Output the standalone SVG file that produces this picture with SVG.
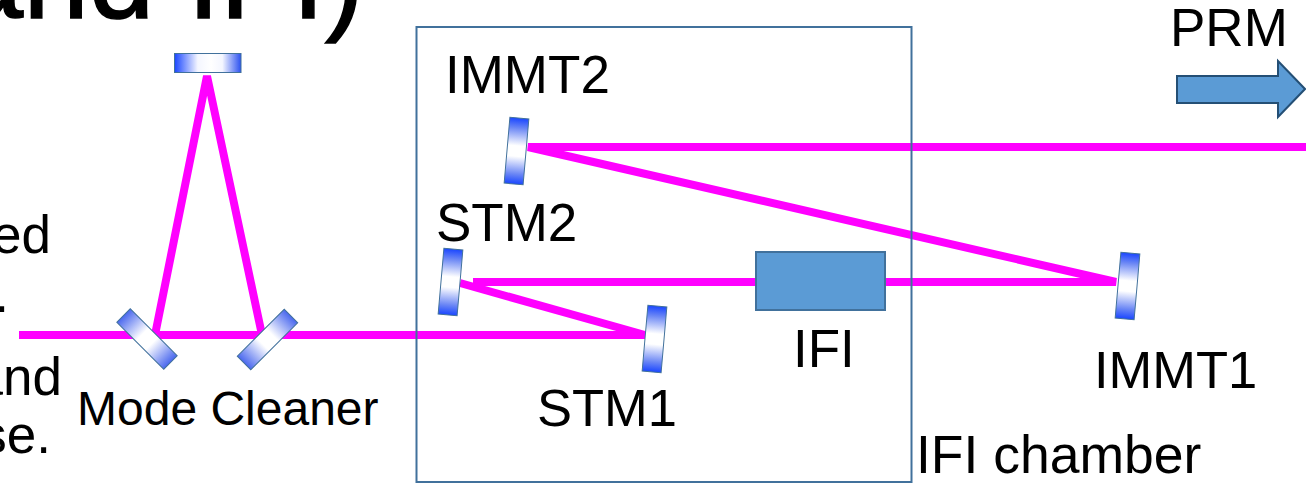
<svg xmlns="http://www.w3.org/2000/svg" width="1306" height="483" viewBox="0 0 1306 483">
<style>
text{font-family:"Liberation Sans",Arial,sans-serif;font-size:53px;fill:#000}
.m{font-size:48px}
.s{font-size:52.500px}
.beam{stroke:#f0f;stroke-width:8;fill:none}
.mirror{stroke:#41719c;stroke-width:1}
</style>
<defs>
<linearGradient id="g" x1="0" y1="0" x2="0" y2="1">
<stop offset="0" stop-color="#1a46ff"/><stop offset=".15" stop-color="#6a86f5"/><stop offset=".42" stop-color="#fff"/><stop offset=".58" stop-color="#fff"/><stop offset=".85" stop-color="#6a86f5"/><stop offset="1" stop-color="#1a46ff"/>
</linearGradient>
<linearGradient id="gh" x1="0" y1="0" x2="1" y2="0">
<stop offset="0" stop-color="#1a46ff"/><stop offset=".35" stop-color="#f4f6ff"/><stop offset=".55" stop-color="#fff"/><stop offset=".72" stop-color="#f4f6ff"/><stop offset="1" stop-color="#2a50f0"/>
</linearGradient>
<linearGradient id="gm" x1="0" y1="0" x2="1" y2="0">
<stop offset="0" stop-color="#4a68ee"/><stop offset=".4" stop-color="#fff"/><stop offset=".6" stop-color="#fff"/><stop offset="1" stop-color="#4a68ee"/>
</linearGradient>
</defs>
<rect width="1306" height="483" fill="#fff"/>
<g id="title"><text x="-42.500" y="18" style="font-size:118px" stroke="#000" stroke-width="1.500">and IFI)</text></g>
<g id="side-text">
<text x="51" y="253" text-anchor="end">ed</text>
<text x="9" y="312" text-anchor="end">.</text>
<text x="62" y="395" text-anchor="end">and</text>
<text x="51" y="453" text-anchor="end">se.</text>
</g>
<g id="connectors">
<path class="beam" d="M19 335H645"/>
<path class="beam" d="M155 335L207 76L262 335"/>
<path class="beam" d="M1306 147H528L1116 282H473"/>
<path class="beam" d="M460 283L645 335"/>
</g>
<g id="chamber"><rect x="416.500" y="27" width="495" height="455" fill="none" stroke="#41719c" stroke-width="2"/>
<text x="916" y="473" style="font-size:53.500px">IFI chamber</text></g>
<g id="mc-top"><rect class="mirror" x="174.500" y="53.500" width="66.500" height="19" fill="url(#gh)"/></g>
<g id="mc-left"><rect class="mirror" x="-33.200" y="-9.500" width="66.400" height="19" fill="url(#gm)" transform="translate(147 339) rotate(45)"/></g>
<g id="mc-right"><rect class="mirror" x="-33.200" y="-9.500" width="66.400" height="19" fill="url(#gm)" transform="translate(267.500 339.500) rotate(-45)"/></g>
<g id="mode-cleaner-label"><text class="m" x="77" y="425">Mode Cleaner</text></g>
<g id="immt2"><rect class="mirror" x="-9.500" y="-33" width="19" height="66" fill="url(#g)" transform="translate(516.500 151) rotate(5)"/><text x="445" y="93">IMMT2</text></g>
<g id="stm2"><rect class="mirror" x="-9.500" y="-33" width="19" height="66" fill="url(#g)" transform="translate(450.500 282) rotate(5)"/><text x="436" y="241">STM2</text></g>
<g id="stm1"><rect class="mirror" x="-9.500" y="-33" width="19" height="66" fill="url(#g)" transform="translate(654.500 339) rotate(5)"/><text class="s" x="537" y="426">STM1</text></g>
<g id="immt1"><rect class="mirror" x="-9.500" y="-33" width="19" height="66" fill="url(#g)" transform="translate(1127.500 286) rotate(5)"/><text class="s" x="1094" y="388">IMMT1</text></g>
<g id="ifi"><rect x="756" y="252" width="129" height="58" fill="#5b9bd5" stroke="#41719c" stroke-width="2"/><text x="793" y="367">IFI</text></g>
<g id="prm"><text x="1170" y="46">PRM</text><path d="M1177 76H1278V61L1305 89L1278 117V103H1177Z" fill="#5b9bd5" stroke="#244f75" stroke-width="2"/></g>
</svg>
